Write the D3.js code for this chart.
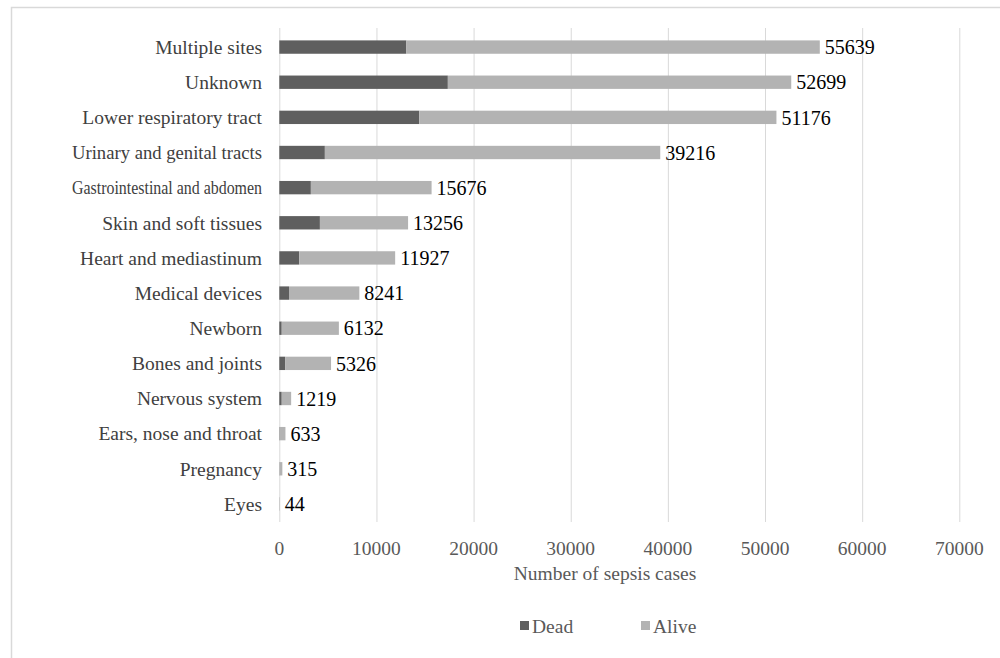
<!DOCTYPE html>
<html>
<head>
<meta charset="utf-8">
<script src="https://cdn.jsdelivr.net/npm/d3@7"></script>
<style>
  html, body { margin: 0; padding: 0; background: #fff; }
  svg { display: block; }
</style>
</head>
<body>
<svg id="chart" width="1000" height="658"></svg>
<script>
// Sepsis cases by site of infection, split into deaths and survivors
const categories = [
  "Multiple sites", "Unknown", "Lower respiratory tract", "Urinary and genital tracts",
  "Gastrointestinal and abdomen", "Skin and soft tissues", "Heart and mediastinum",
  "Medical devices", "Newborn", "Bones and joints", "Nervous system",
  "Ears, nose and throat", "Pregnancy", "Eyes"
];
const totals = [55639, 52699, 51176, 39216, 15676, 13256, 11927, 8241, 6132, 5326, 1219, 633, 315, 44];
const dead   = [13080, 17350, 14410, 4690, 3250, 4180, 2050, 1000, 250, 600, 250, 40, 20, 5];
const alive  = totals.map((t, i) => t - dead[i]);
const xTicks = [0, 10000, 20000, 30000, 40000, 50000, 60000, 70000];
const seriesNames = ["Dead", "Alive"];
const seriesColors = ["#5f5f5f", "#b3b3b3"];

const svg = d3.select("#chart");
const font = "'Liberation Serif', 'Times New Roman', serif";

// outer frame (left and top edges visible)
svg.append("path")
  .attr("d", "M11.5,658 L11.5,7.5 L1000,7.5")
  .attr("fill", "none").attr("stroke", "#d9d9d9").attr("stroke-width", 1.5);

const plot = { left: 279.3, right: 959.3, top: 28, bottom: 522 };

const x = d3.scaleLinear().domain([0, 70000]).range([plot.left, plot.right]);
const y = d3.scaleBand().domain(categories).range([plot.top + 1.5, plot.bottom - 0.5]).paddingInner(0.62).paddingOuter(0.31);

// vertical gridlines
svg.append("g").selectAll("line").data(xTicks).join("line")
  .attr("x1", d => x(d) + 0.5).attr("x2", d => x(d) + 0.5)
  .attr("y1", plot.top).attr("y2", plot.bottom)
  .attr("stroke", "#d9d9d9").attr("stroke-width", 1);

// stacked bars
const rows = categories.map((c, i) => ({ cat: c, Dead: dead[i], Alive: alive[i] }));
const stack = d3.stack().keys(seriesNames)(rows);
svg.append("g").selectAll("g").data(stack).join("g")
  .attr("fill", (d, i) => seriesColors[i])
  .selectAll("rect").data(d => d).join("rect")
  .attr("x", d => x(d[0]))
  .attr("width", d => Math.max(0, x(d[1]) - x(d[0])))
  .attr("y", d => y(d.data.cat))
  .attr("height", y.bandwidth());

// category labels, squeezed when wider than the label column
const maxLabelWidth = 190;
svg.append("g").selectAll("text").data(categories).join("text")
  .attr("x", 262).attr("y", d => y(d) + y.bandwidth() / 2)
  .attr("dy", "0.35em").attr("text-anchor", "end")
  .attr("font-family", font).attr("font-size", 19.5).attr("fill", "#404040")
  .text(d => d)
  .each(function () {
    const w = this.getComputedTextLength();
    if (w > maxLabelWidth) {
      d3.select(this).attr("textLength", maxLabelWidth).attr("lengthAdjust", "spacingAndGlyphs");
    }
  });

// total value labels
svg.append("g").selectAll("text").data(categories).join("text")
  .attr("x", (d, i) => x(totals[i]) + 5).attr("y", d => y(d) + y.bandwidth() / 2)
  .attr("dy", "0.36em")
  .attr("font-family", font).attr("font-size", 20).attr("fill", "#000")
  .text((d, i) => totals[i]);

// x axis tick labels
svg.append("g").selectAll("text").data(xTicks).join("text")
  .attr("x", d => x(d)).attr("y", 555)
  .attr("text-anchor", "middle")
  .attr("font-family", font).attr("font-size", 19.5).attr("fill", "#595959")
  .text(d => d);

// axis title
svg.append("text")
  .attr("x", 605).attr("y", 580)
  .attr("text-anchor", "middle")
  .attr("font-family", font).attr("font-size", 19.5).attr("fill", "#595959")
  .text("Number of sepsis cases");

// legend
const legendX = [520, 641];
const legend = svg.append("g").selectAll("g").data(seriesNames).join("g")
  .attr("transform", (d, i) => `translate(${legendX[i]},626)`);
legend.append("rect").attr("x", 0).attr("y", -5).attr("width", 9).attr("height", 9)
  .attr("fill", (d, i) => seriesColors[i]);
legend.append("text").attr("x", 12).attr("y", 0).attr("dy", "0.35em")
  .attr("font-family", font).attr("font-size", 19.5).attr("fill", "#595959")
  .text(d => d);
</script>
</body>
</html>
